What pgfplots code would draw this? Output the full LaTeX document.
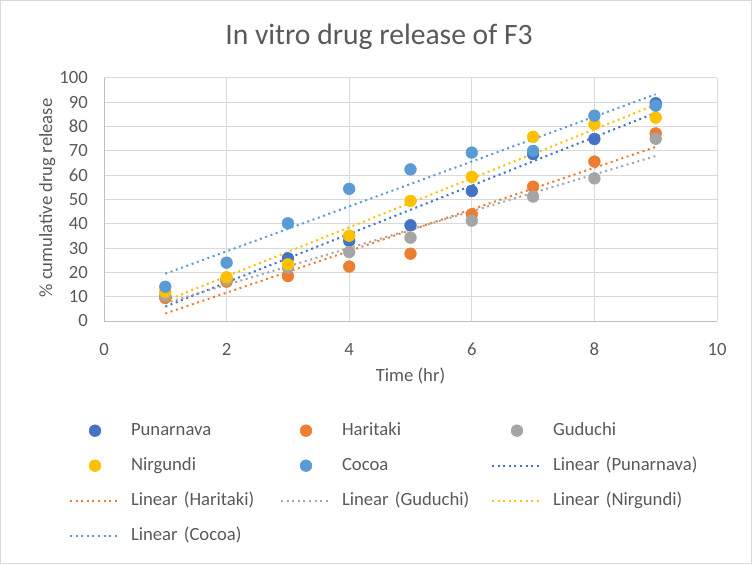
\documentclass[border=0pt]{standalone}
\usepackage{fontspec}
\setmainfont{Carlito}
\usepackage{pgfplots}
\usepackage{pgfplotstable}
\pgfplotsset{compat=1.18}

\definecolor{cP}{HTML}{4472C4}
\definecolor{cH}{HTML}{ED7D31}
\definecolor{cG}{HTML}{A5A5A5}
\definecolor{cN}{HTML}{FFC000}
\definecolor{cC}{HTML}{5B9BD5}
\definecolor{txt}{HTML}{595959}
\definecolor{gridc}{HTML}{D9D9D9}
\definecolor{axc}{HTML}{BFBFBF}

% release (%) vs time (hr)
\pgfplotstableread{
x  P     H     G     N     C
1  10.0  9.5   10.5  12.0  14.1
2  17.1  16.2  17.0  18.0  24.0
3  25.8  18.5  22.0  23.3  40.2
4  33.0  22.4  28.4  35.1  54.4
5  39.4  27.7  34.3  49.4  62.4
6  53.5  43.9  41.3  59.3  69.3
7  68.7  55.3  51.2  75.8  70.0
8  74.9  65.6  58.7  81.0  84.5
9  89.6  77.2  75.0  83.7  88.6
}\data

\tikzset{
  dot/.style={only marks, mark=*, mark size=4.4pt, mark options={draw=#1, fill=#1}},
  trend/.style={#1, line width=1.5pt, dash pattern=on 1.5pt off 2.7pt, no marks},
}
\newcommand\lblfont{\fontsize{14}{17}\selectfont}

\begin{document}
\begin{tikzpicture}
\path[use as bounding box] (0,0) rectangle (564pt,423pt);
\draw[gridc, line width=0.75pt] (0.4pt,0.4pt) rectangle (563.6pt,422.6pt);
\node[anchor=base, inner sep=0pt, font=\fontsize{22.2}{27}\selectfont, text=txt]
  at (284.25pt,389.25pt) {In vitro drug release of F3};

\begin{axis}[
    at={(78pt,182.25pt)}, anchor=south west,
    scale only axis,
    width=459.75pt, height=182.25pt,
    xmin=0, xmax=10, ymin=0, ymax=100,
    xtick={0,2,...,10}, ytick={0,10,...,100},
    axis x line*=bottom, axis y line*=left,
    axis line style={axc, line width=0.75pt},
    grid=major,
    major grid style={gridc, line width=0.75pt},
    major tick length=0pt,
    /pgf/number format/assume math mode=true,
    tick label style={font=\lblfont, text=txt, inner sep=0pt},
    xticklabel style={anchor=base, yshift=-26pt},
    yticklabel style={anchor=east, xshift=-12pt},
    xlabel={Time (hr)},
    xlabel style={at={(axis description cs:0.5,0)}, anchor=base, yshift=-45pt,
      inner sep=0pt, font=\lblfont, text=txt},
    ylabel={\% cumulative drug release},
    ylabel style={at={(axis description cs:-0.0848,0.506)}, anchor=base,
      inner sep=0pt, font=\lblfont, text=txt},
    legend columns=3,
    legend cell align=left,
    legend image code/.code={%
      \draw[mark repeat=2, mark phase=2, #1]
        plot coordinates {(0pt,0pt) (18.75pt,0pt) (37.5pt,0pt)};},
    legend style={
      at={(axis description cs:-0.0571,-0.4156)}, anchor=north west,
      draw=none, fill=none, inner sep=0pt, outer sep=0pt,
      row sep=13.25pt,
      nodes={inner sep=0pt, text width=111pt, align=left,
        text height=10pt, text depth=3pt,
        font=\lblfont, text=txt},
      /tikz/every odd column/.style={column sep=7.5pt},
      /tikz/every even column/.style={column sep=0.75pt},
    },
]
\addplot[dot=cP] table[x=x, y=P] {\data};
\addplot[dot=cH] table[x=x, y=H] {\data};
\addplot[dot=cG] table[x=x, y=G] {\data};
\addplot[dot=cN] table[x=x, y=N] {\data};
\addplot[dot=cC] table[x=x, y=C] {\data};

\addplot[trend=cP] table[x=x, y={create col/linear regression={y=P}}] {\data};
\addplot[trend=cH] table[x=x, y={create col/linear regression={y=H}}] {\data};
\addplot[trend=cG] table[x=x, y={create col/linear regression={y=G}}] {\data};
\addplot[trend=cN] table[x=x, y={create col/linear regression={y=N}}] {\data};
\addplot[trend=cC] table[x=x, y={create col/linear regression={y=C}}] {\data};

\legend{Punarnava, Haritaki, Guduchi, Nirgundi, Cocoa,
  Linear (Punarnava), Linear (Haritaki), Linear (Guduchi),
  Linear (Nirgundi), Linear (Cocoa)}
\end{axis}
\end{tikzpicture}
\end{document}
